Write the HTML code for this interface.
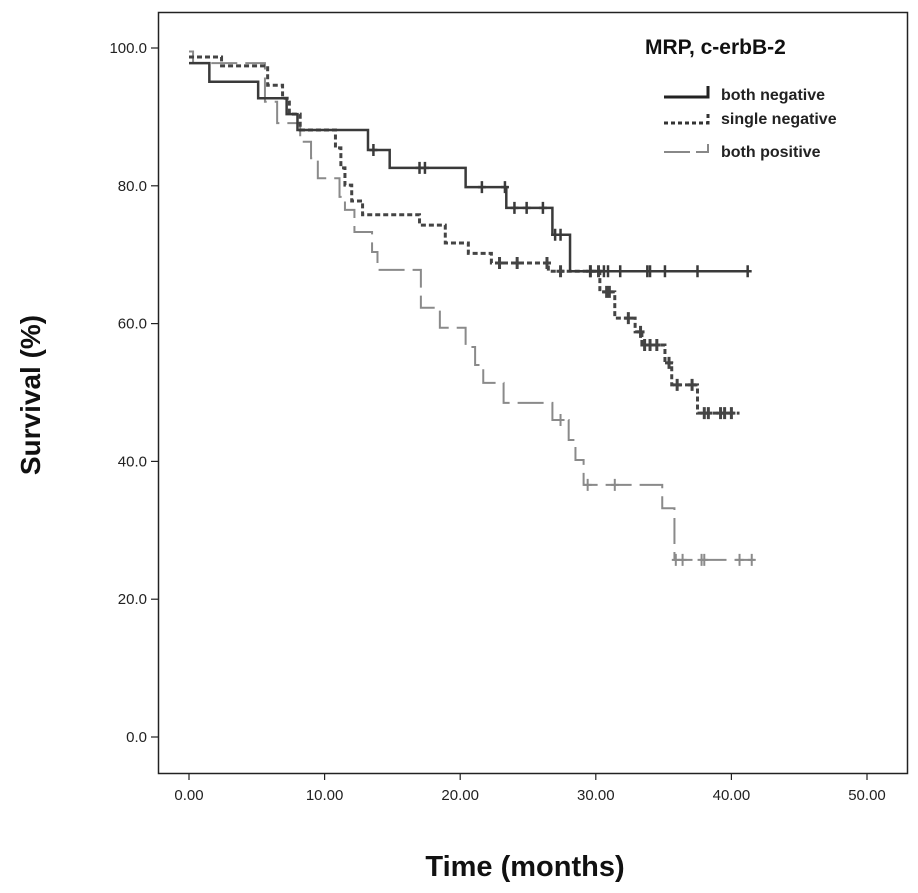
<!DOCTYPE html>
<html><head><meta charset="utf-8"><style>
html,body{margin:0;padding:0;background:#fff;}
svg{display:block;font-family:"Liberation Sans",sans-serif;}
</style></head><body>
<svg id="chart" width="918" height="893" viewBox="0 0 918 893" xmlns="http://www.w3.org/2000/svg">
<rect x="158.5" y="12.5" width="749" height="761" fill="none" stroke="#222" stroke-width="1.5"/>
<g id="axes"></g>
<g id="series"></g>
<text transform="translate(40,395) rotate(-90)" text-anchor="middle" font-size="28" font-weight="bold" fill="#111">Survival (%)</text>
<text x="525" y="876" text-anchor="middle" font-size="29" font-weight="bold" fill="#111">Time (months)</text>
<g>
<text x="645" y="54" font-size="21" font-weight="bold" fill="#111">MRP, c-erbB-2</text>
<path d="M664,97 H708 V86" fill="none" stroke="#222" stroke-width="3"/>
<text x="721" y="100" font-size="16" font-weight="bold" fill="#222">both negative</text>
<path d="M664,123 H708 V112" fill="none" stroke="#333" stroke-width="3" stroke-dasharray="4,3"/>
<text x="721" y="124" font-size="16" font-weight="bold" fill="#222">single negative</text>
<path d="M664,152 H690 M696,152 H708 V144" fill="none" stroke="#888" stroke-width="2"/>
<text x="721" y="157" font-size="16" font-weight="bold" fill="#222">both positive</text>
</g>
</svg>
<script>
const xTicks=[0,10,20,30,40,50];
const xTickLabels=["0.00","10.00","20.00","30.00","40.00","50.00"];
const yTicks=[0,20,40,60,80,100];
const yTickLabels=["0.0","20.0","40.0","60.0","80.0","100.0"];
const bothNegTimes=[0,1.5,5.1,7.2,8.0,13.2,14.8,20.4,23.4,26.8,28.1,41.2];
const bothNegSurv=[97.8,95.1,92.7,90.4,88.1,85.2,82.6,79.8,76.8,72.9,67.6,67.6];
const bothNegCensor=[13.6,17.0,17.4,21.6,23.3,24.0,24.9,26.1,27.0,27.4,29.6,30.6,30.9,31.8,33.8,34.0,35.1,37.5,41.2];
const singleNegTimes=[0,2.4,5.8,6.9,7.4,8.2,10.8,11.2,11.5,12.0,12.8,17.0,18.9,20.6,22.3,26.5,30.3,31.4,32.9,33.4,35.1,35.6,37.5,40.6];
const singleNegSurv=[98.7,97.4,94.6,92.7,90.4,88.1,85.5,82.6,80.1,77.8,75.8,74.3,71.7,70.2,68.8,67.6,64.6,60.8,58.8,56.9,54.3,51.1,47.0,47.0];
const singleNegCensor=[22.9,24.2,26.4,27.4,29.6,30.2,30.8,31.0,32.4,33.3,33.6,34.0,34.5,35.4,36.0,37.1,38.0,38.3,39.2,39.5,40.0];
const bothPosTimes=[0,0.3,5.6,6.5,8.2,9.0,9.5,11.1,11.5,12.2,13.5,13.9,17.1,18.5,20.4,21.1,21.7,23.2,26.8,28.0,28.5,29.1,34.9,35.8,41.7];
const bothPosSurv=[99.5,97.8,92.2,89.1,86.4,84.0,81.1,78.4,76.5,73.3,70.4,67.8,62.3,59.4,56.6,54.0,51.4,48.5,46.0,43.1,40.2,36.6,33.2,25.7,25.7];
const bothPosCensor=[27.4,29.4,31.4,35.9,36.4,37.8,38.0,40.6,41.5];

const X=t=>189+t*(867-189)/50;
const Y=s=>737-s*(737-48)/100;
const NS="http://www.w3.org/2000/svg";
const axes=document.getElementById('axes'), series=document.getElementById('series');
function mk(tag,attrs,parent){const e=document.createElementNS(NS,tag);for(const k in attrs)e.setAttribute(k,attrs[k]);parent.appendChild(e);return e;}
xTicks.forEach((v,i)=>{
  const l=mk('line',{x1:X(v),x2:X(v),y1:773,y2:780,stroke:'#222','stroke-width':1.2},axes);
  
  
  const t=mk('text',{x:X(v),y:800,'text-anchor':'middle','font-size':15,fill:'#222'},axes);
  t.textContent=xTickLabels[i];
  
  
});
yTicks.forEach((v,i)=>{
  const l=mk('line',{x1:151,x2:158,y1:Y(v),y2:Y(v),stroke:'#222','stroke-width':1.2},axes);
  
  
  const t=mk('text',{x:147,y:Y(v)+5,'text-anchor':'end','font-size':15,fill:'#222'},axes);
  t.textContent=yTickLabels[i];
  
  
});
function stepPath(ts,ss){let d='M'+X(ts[0])+','+Y(ss[0]);for(let i=1;i<ts.length;i++){d+=' H'+X(ts[i])+' V'+Y(ss[i]);}return d;}
function survAt(ts,ss,t){let s=ss[0];for(let i=0;i<ts.length;i++){if(ts[i]<=t)s=ss[i];}return s;}
function drawSeries(name,ts,ss,cs,color,width,dash){
  const p=mk('path',{d:stepPath(ts,ss),fill:'none',stroke:color,'stroke-width':width},series);
  if(dash)p.setAttribute('stroke-dasharray',dash);
  
  
  cs.forEach(t=>{
    const x=X(t),y=Y(survAt(ts,ss,t));
    const c=mk('path',{d:`M${x},${y-6} V${y+6} M${x-4},${y} H${x+4}`,stroke:color,'stroke-width':width,fill:'none'},series);
    
    
  });
}
drawSeries('both-positive',bothPosTimes,bothPosSurv,bothPosCensor,'#8a8a8a',2,'26,8');
drawSeries('single-negative',singleNegTimes,singleNegSurv,singleNegCensor,'#444',3,'5,3');
drawSeries('both-negative',bothNegTimes,bothNegSurv,bothNegCensor,'#3a3a3a',2.5,null);
</script>
</body></html>
